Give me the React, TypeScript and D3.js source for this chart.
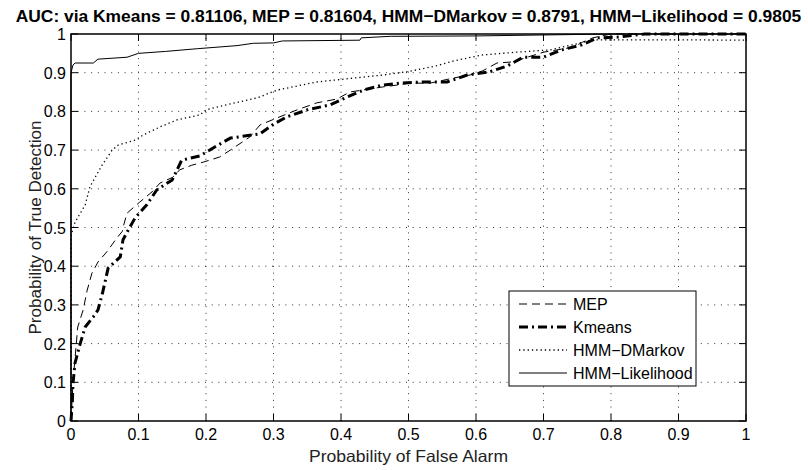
import React from "react";
import * as d3 from "d3";

const titleText =
  "AUC: via Kmeans = 0.81106, MEP = 0.81604, HMM\u2212DMarkov = 0.8791, HMM\u2212Likelihood = 0.9805";
const xLabel = "Probability of False Alarm";
const yLabel = "Probability of True Detection";
const xTicks = [0, 0.1, 0.2, 0.3, 0.4, 0.5, 0.6, 0.7, 0.8, 0.9, 1];
const yTicks = [0, 0.1, 0.2, 0.3, 0.4, 0.5, 0.6, 0.7, 0.8, 0.9, 1];
const tickLabels = ["0", "0.1", "0.2", "0.3", "0.4", "0.5", "0.6", "0.7", "0.8", "0.9", "1"];

const mep: [number, number][] = [
  [0, 0], [0.003, 0.1], [0.006, 0.163], [0.01, 0.243], [0.018, 0.287], [0.024, 0.338],
  [0.031, 0.382], [0.04, 0.411], [0.053, 0.437], [0.068, 0.473], [0.076, 0.49],
  [0.078, 0.506], [0.083, 0.537], [0.102, 0.566], [0.12, 0.592], [0.132, 0.615],
  [0.151, 0.63], [0.161, 0.649], [0.179, 0.661], [0.196, 0.669], [0.22, 0.682],
  [0.236, 0.7], [0.265, 0.734], [0.28, 0.765], [0.305, 0.783], [0.335, 0.804],
  [0.364, 0.822], [0.394, 0.832], [0.413, 0.85], [0.461, 0.863], [0.483, 0.868],
  [0.502, 0.873], [0.532, 0.873], [0.566, 0.886], [0.591, 0.894], [0.61, 0.905],
  [0.631, 0.925], [0.655, 0.928], [0.676, 0.94], [0.7, 0.953], [0.744, 0.966],
  [0.758, 0.979], [0.773, 0.99], [0.8, 1], [1, 1],
];

const kmeans: [number, number][] = [
  [0, 0], [0.002, 0.05], [0.003, 0.098], [0.006, 0.15], [0.013, 0.196], [0.021, 0.243],
  [0.033, 0.269], [0.04, 0.287], [0.047, 0.333], [0.055, 0.395], [0.073, 0.424],
  [0.077, 0.468], [0.083, 0.488], [0.095, 0.525], [0.112, 0.558], [0.127, 0.597],
  [0.15, 0.623], [0.164, 0.674], [0.191, 0.685], [0.213, 0.708], [0.236, 0.731],
  [0.28, 0.742], [0.3, 0.767], [0.32, 0.786], [0.35, 0.804], [0.384, 0.817],
  [0.409, 0.837], [0.433, 0.855], [0.461, 0.868], [0.487, 0.873], [0.521, 0.876],
  [0.557, 0.876], [0.587, 0.894], [0.62, 0.902], [0.647, 0.918], [0.67, 0.94],
  [0.7, 0.94], [0.727, 0.959], [0.757, 0.972], [0.78, 0.99], [0.81, 0.992],
  [0.85, 1], [1, 1],
];

const dmarkov: [number, number][] = [
  [0, 0], [0, 0.48], [0.006, 0.514], [0.021, 0.558], [0.028, 0.605], [0.036, 0.63],
  [0.046, 0.661], [0.061, 0.7], [0.07, 0.713], [0.095, 0.726], [0.107, 0.739],
  [0.132, 0.76], [0.157, 0.778], [0.191, 0.791], [0.2, 0.804], [0.23, 0.817],
  [0.276, 0.835], [0.305, 0.855], [0.364, 0.876], [0.462, 0.894], [0.5, 0.903],
  [0.542, 0.918], [0.566, 0.93], [0.61, 0.946], [0.66, 0.953], [0.71, 0.959],
  [0.75, 0.975], [0.773, 0.985], [0.9, 0.985], [1, 0.984],
];

const likelihood: [number, number][] = [
  [0, 0], [0, 0.9], [0.003, 0.92], [0.006, 0.925], [0.033, 0.925], [0.04, 0.935],
  [0.083, 0.94], [0.1, 0.95], [0.14, 0.955], [0.187, 0.962], [0.246, 0.97],
  [0.27, 0.976], [0.3, 0.977], [0.313, 0.982], [0.428, 0.984], [0.43, 0.99],
  [0.473, 0.994], [0.6, 0.995], [0.8, 1], [1, 1],
];

const seriesNames = ["MEP", "Kmeans", "HMM\u2212DMarkov", "HMM\u2212Likelihood"];

const W = 808;
const H = 470;
const L = 71;
const R = 746;
const T = 34;
const B = 421;
const FONT = "'Liberation Sans', Arial, Helvetica, sans-serif";

const styles = [
  { width: 1, dash: "8,5" },
  { width: 3, dash: "9,4,2,4" },
  { width: 1.3, dash: "1.3,3" },
  { width: 1, dash: "none" },
];

export default function App() {
  const x = d3.scaleLinear().domain([0, 1]).range([L, R]);
  const y = d3.scaleLinear().domain([0, 1]).range([B, T]);
  const line = d3
    .line<[number, number]>()
    .x((d) => x(d[0]))
    .y((d) => y(d[1]));
  const data = [mep, kmeans, dmarkov, likelihood];
  const tickLen = 7;

  const legX = 509;
  const legY = 291;
  const legW = 187;
  const legH = 95;
  const legRows = [304, 327, 350, 373];

  return (
    <svg
      width={W}
      height={H}
      style={{ position: "absolute", left: 0, top: 0, display: "block", background: "#fff" }}
      fontFamily={FONT}
    >
      <rect x={0} y={0} width={W} height={H} fill="#fff" />
      {/* grid */}
      <g stroke="#333" strokeWidth={1} strokeDasharray="1,5.7">
        {xTicks.slice(1, -1).map((t, i) => (
          <line key={"gx" + i} x1={x(t)} x2={x(t)} y1={B} y2={T} />
        ))}
        {yTicks.slice(1, -1).map((t, i) => (
          <line key={"gy" + i} x1={L} x2={R} y1={y(t)} y2={y(t)} />
        ))}
      </g>
      {/* ticks */}
      <g stroke="#000" strokeWidth={1}>
        {xTicks.map((t, i) => (
          <g key={"tx" + i}>
            <line x1={x(t)} x2={x(t)} y1={B} y2={B - tickLen} />
            <line x1={x(t)} x2={x(t)} y1={T} y2={T + tickLen} />
          </g>
        ))}
        {yTicks.map((t, i) => (
          <g key={"ty" + i}>
            <line x1={L} x2={L + tickLen} y1={y(t)} y2={y(t)} />
            <line x1={R} x2={R - tickLen} y1={y(t)} y2={y(t)} />
          </g>
        ))}
      </g>
      {/* series */}
      <g fill="none" stroke="#000" strokeLinejoin="round">
        {data.map((d, i) => (
          <path
            key={"s" + i}
            d={line(d) || ""}
            strokeWidth={styles[i].width}
            strokeDasharray={styles[i].dash}
          />
        ))}
      </g>
      {/* box */}
      <rect x={L} y={T} width={R - L} height={B - T} fill="none" stroke="#000" strokeWidth={1.5} />
      {/* tick labels */}
      <g fontSize={16} fill="#000">
        {xTicks.map((t, i) => (
          <text key={"lx" + i} x={x(t)} y={440} textAnchor="middle">
            {tickLabels[i]}
          </text>
        ))}
        {yTicks.map((t, i) => (
          <text key={"ly" + i} x={66} y={y(t) + 6} textAnchor="end">
            {tickLabels[i]}
          </text>
        ))}
      </g>
      {/* axis labels */}
      <text
        x={(L + R) / 2}
        y={462}
        fontSize={16.5}
        textAnchor="middle"
        fill="#222"
        textLength={199}
        lengthAdjust="spacingAndGlyphs"
      >
        {xLabel}
      </text>
      <text
        transform={`translate(41,${(T + B) / 2}) rotate(-90)`}
        fontSize={16.5}
        textAnchor="middle"
        fill="#222"
        textLength={214}
        lengthAdjust="spacingAndGlyphs"
      >
        {yLabel}
      </text>
      {/* title */}
      <text
        x={(L + R) / 2}
        y={22}
        fontSize={17.4}
        fontWeight="bold"
        textAnchor="middle"
        fill="#000"
      >
        {titleText}
      </text>
      {/* legend */}
      <rect x={legX} y={legY} width={legW} height={legH} fill="#fff" stroke="#000" strokeWidth={1} />
      {seriesNames.map((n, i) => (
        <g key={"lg" + i}>
          <line
            x1={519}
            x2={567}
            y1={legRows[i]}
            y2={legRows[i]}
            stroke="#000"
            strokeWidth={styles[i].width}
            strokeDasharray={styles[i].dash}
          />
          <text x={573} y={legRows[i] + 6} fontSize={16} fill="#000">
            {n}
          </text>
        </g>
      ))}
    </svg>
  );
}
